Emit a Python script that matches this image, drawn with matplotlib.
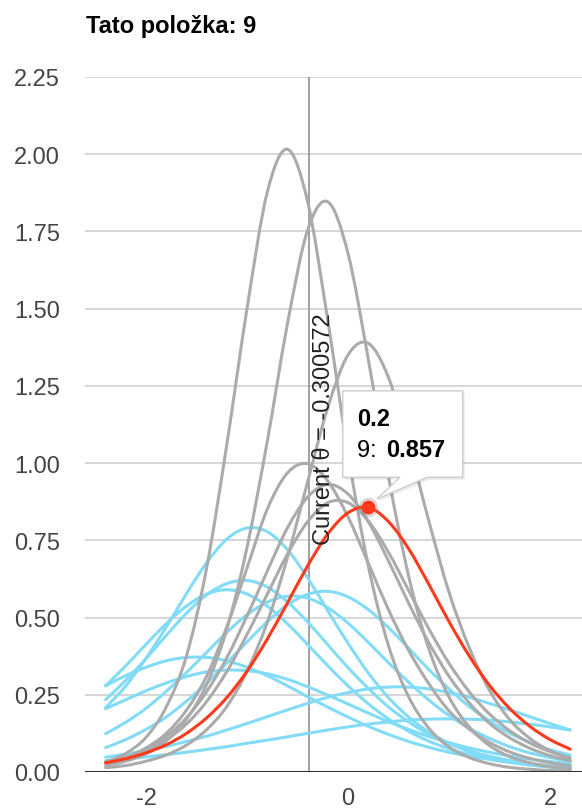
import matplotlib
matplotlib.use("Agg")
import matplotlib.pyplot as plt
from matplotlib.path import Path
from matplotlib.patches import PathPatch, Polygon

plt.rcParams["font.family"] = ["Liberation Sans", "DejaVu Sans"]

# ability grid (x) and item information values
theta = [-2.4, -2.2, -2.0, -1.8, -1.6, -1.4, -1.2, -1.0, -0.8, -0.6, -0.4, -0.2,
         0.0, 0.2, 0.4, 0.6, 0.8, 1.0, 1.2, 1.4, 1.6, 1.8, 2.0, 2.2]

# highlighted item (red)
item_9 = [0.030, 0.043, 0.062, 0.088, 0.125, 0.175, 0.241, 0.326, 0.430, 0.547, 0.667, 0.771,
          0.839, 0.857, 0.811, 0.723, 0.608, 0.487, 0.376, 0.281, 0.206, 0.148, 0.105, 0.074]

# grey items
gray_1 = [0.032, 0.060, 0.112, 0.210, 0.375, 0.660, 1.060, 1.500, 1.876, 2.016, 1.847, 1.462,
          1.031, 0.669, 0.410, 0.244, 0.142, 0.081, 0.047, 0.027, 0.015, 0.009, 0.005, 0.003]
gray_2 = [0.020, 0.035, 0.059, 0.101, 0.171, 0.283, 0.462, 0.727, 1.069, 1.450, 1.754, 1.846,
          1.679, 1.338, 0.958, 0.635, 0.399, 0.243, 0.146, 0.086, 0.050, 0.030, 0.017, 0.010]
gray_3 = [0.014, 0.021, 0.035, 0.055, 0.087, 0.137, 0.212, 0.326, 0.484, 0.694, 0.939, 1.180,
          1.350, 1.388, 1.278, 1.063, 0.813, 0.582, 0.403, 0.265, 0.170, 0.109, 0.069, 0.043]
gray_4 = [0.030, 0.048, 0.078, 0.125, 0.200, 0.310, 0.470, 0.660, 0.850, 0.968, 0.998, 0.942,
          0.826, 0.677, 0.526, 0.394, 0.286, 0.198, 0.139, 0.096, 0.065, 0.044, 0.030, 0.020]
gray_5 = [0.030, 0.048, 0.075, 0.115, 0.175, 0.260, 0.370, 0.505, 0.650, 0.790, 0.890, 0.931,
          0.900, 0.811, 0.684, 0.547, 0.419, 0.310, 0.224, 0.158, 0.111, 0.077, 0.053, 0.036]
gray_6 = [0.028, 0.044, 0.068, 0.104, 0.155, 0.228, 0.325, 0.445, 0.575, 0.705, 0.810, 0.872,
          0.872, 0.813, 0.712, 0.588, 0.464, 0.352, 0.260, 0.188, 0.134, 0.094, 0.066, 0.046]

# light blue items
blue_1 = [0.208, 0.279, 0.368, 0.469, 0.577, 0.677, 0.754, 0.790, 0.778, 0.720, 0.629, 0.522,
          0.417, 0.321, 0.241, 0.178, 0.129, 0.093, 0.066, 0.047, 0.033, 0.023, 0.016, 0.012]
blue_2 = [0.234, 0.297, 0.367, 0.442, 0.514, 0.573, 0.610, 0.620, 0.599, 0.551, 0.486, 0.412,
          0.338, 0.271, 0.211, 0.162, 0.123, 0.092, 0.069, 0.051, 0.038, 0.028, 0.020, 0.015]
blue_3 = [0.279, 0.344, 0.413, 0.480, 0.537, 0.576, 0.590, 0.576, 0.537, 0.480, 0.413, 0.344,
          0.279, 0.221, 0.172, 0.132, 0.100, 0.075, 0.057, 0.042, 0.031, 0.023, 0.017, 0.013]
blue_4 = [0.079, 0.105, 0.138, 0.178, 0.229, 0.287, 0.353, 0.421, 0.486, 0.541, 0.575, 0.585,
          0.567, 0.526, 0.468, 0.401, 0.332, 0.269, 0.212, 0.166, 0.126, 0.096, 0.072, 0.055]
blue_5 = [0.279, 0.312, 0.339, 0.360, 0.371, 0.371, 0.360, 0.339, 0.312, 0.279, 0.244, 0.210,
          0.178, 0.148, 0.122, 0.099, 0.080, 0.064, 0.051, 0.041, 0.032, 0.026, 0.020, 0.016]
blue_6 = [0.205, 0.234, 0.263, 0.288, 0.309, 0.324, 0.330, 0.328, 0.318, 0.300, 0.276, 0.249,
          0.220, 0.191, 0.163, 0.138, 0.115, 0.095, 0.078, 0.064, 0.052, 0.042, 0.034, 0.027]
blue_7 = [0.048, 0.058, 0.070, 0.083, 0.099, 0.116, 0.136, 0.157, 0.179, 0.201, 0.222, 0.242,
          0.257, 0.269, 0.275, 0.275, 0.269, 0.257, 0.242, 0.222, 0.201, 0.179, 0.157, 0.136]
blue_8 = [0.037, 0.042, 0.049, 0.056, 0.064, 0.073, 0.082, 0.093, 0.103, 0.114, 0.125, 0.136,
          0.146, 0.155, 0.162, 0.168, 0.171, 0.172, 0.171, 0.168, 0.162, 0.155, 0.146, 0.136]
blue_9 = [0.124, 0.161, 0.206, 0.261, 0.322, 0.387, 0.452, 0.509, 0.550, 0.569, 0.563, 0.532,
          0.482, 0.420, 0.354, 0.291, 0.233, 0.183, 0.142, 0.109, 0.082, 0.062, 0.047, 0.035]

gray_items = [gray_1, gray_2, gray_3, gray_4, gray_5, gray_6]
blue_items = [blue_1, blue_2, blue_3, blue_4, blue_5, blue_6, blue_7, blue_8, blue_9]

y_ticks = [0.0, 0.25, 0.5, 0.75, 1.0, 1.25, 1.5, 1.75, 2.0, 2.25]
y_labels = ["0.00", "0.25", "0.50", "0.75", "1.00", "1.25", "1.50", "1.75", "2.00", "2.25"]
x_ticks = [-2, 0, 2]
x_labels = ["-2", "0", "2"]

current_theta = -0.39
current_label = "Current θ = -0.300572"
hover_theta = 0.2
hover_value = 0.857

BLUE = "#82dcf7"
GRAY = "#ababab"
RED = "#ff3a1c"


def smooth_path(xs, ys):
    """Catmull-Rom style bezier through the points (like a 'function' curve)."""
    n = len(xs)
    verts = [(xs[0], ys[0])]
    codes = [Path.MOVETO]
    for i in range(n - 1):
        i0, i3 = max(i - 1, 0), min(i + 2, n - 1)
        c1 = (xs[i] + (xs[i + 1] - xs[i0]) / 6, ys[i] + (ys[i + 1] - ys[i0]) / 6)
        c2 = (xs[i + 1] - (xs[i3] - xs[i]) / 6, ys[i + 1] - (ys[i3] - ys[i]) / 6)
        verts += [c1, c2, (xs[i + 1], ys[i + 1])]
        codes += [Path.CURVE4] * 3
    return Path(verts, codes)


def draw_curve(ax, ys, color, z):
    patch = PathPatch(smooth_path(theta, ys), facecolor="none", edgecolor=color,
                      lw=2.2, capstyle="round", joinstyle="round", zorder=z)
    ax.add_patch(patch)


fig = plt.figure(figsize=(5.82, 8.12), dpi=100)
ax = fig.add_axes([85 / 582, 39 / 812, 497 / 582, 695 / 812])
ax.set_xlim(-2.604, 2.317)
ax.set_ylim(0, 2.25)

for s in ax.spines.values():
    s.set_visible(False)
ax.set_yticks(y_ticks)
ax.set_yticklabels(y_labels)
ax.set_xticks(x_ticks)
ax.set_xticklabels(x_labels)
ax.tick_params(axis="y", length=0, pad=18, labelsize=17, labelcolor="#444444")
ax.tick_params(axis="x", length=0, pad=11, labelsize=17, labelcolor="#444444")
ax.grid(axis="y", color="#cccccc", lw=1.1, zorder=0)
ax.set_axisbelow(True)
ax.axhline(0, color="#333333", lw=1.5, zorder=6)

# current theta marker line and label
ax.axvline(current_theta, color="#999999", lw=1.3, zorder=1)
ax.text(current_theta + 0.045, 0.738, current_label, rotation=90, rotation_mode="anchor",
        ha="left", va="top", fontsize=17, color="#222222", zorder=7)

for ys in blue_items:
    draw_curve(ax, ys, BLUE, 2)
for ys in gray_items:
    draw_curve(ax, ys, GRAY, 3)
draw_curve(ax, item_9, RED, 4)

# hovered point
ax.plot([hover_theta], [hover_value], "o", ms=13, color="#888888", alpha=0.25, zorder=5)
ax.plot([hover_theta], [hover_value], "o", ms=9, color=RED, zorder=5)

# tooltip box with tail
x0, x1, y0, y1 = -0.052, 1.136, 0.954, 1.234
tip = (0.285, 0.883)
box = [(x0, y1), (x1, y1), (x1, y0), (0.782, y0), tip, (0.515, y0), (x0, y0)]
shadow = [(x + 0.02, y - 0.008) for x, y in box]
ax.add_patch(Polygon(shadow, closed=True, facecolor="#000000", alpha=0.08, lw=0, zorder=8))
ax.add_patch(Polygon(box, closed=True, facecolor="white", edgecolor="#cccccc", lw=1, zorder=9))
ax.text(0.089, 1.123, "0.2", fontsize=17, fontweight="bold", color="black", zorder=10)
ax.text(0.089, 1.023, "9: ", fontsize=17, color="black", zorder=10)
ax.text(0.376, 1.023, "0.857", fontsize=17, fontweight="bold", color="black", zorder=10)

fig.text(86 / 582, 1 - 33 / 812, "Tato položka: 9", fontsize=17, fontweight="bold",
         color="black", va="baseline")

fig.savefig("out.png", dpi=100)
